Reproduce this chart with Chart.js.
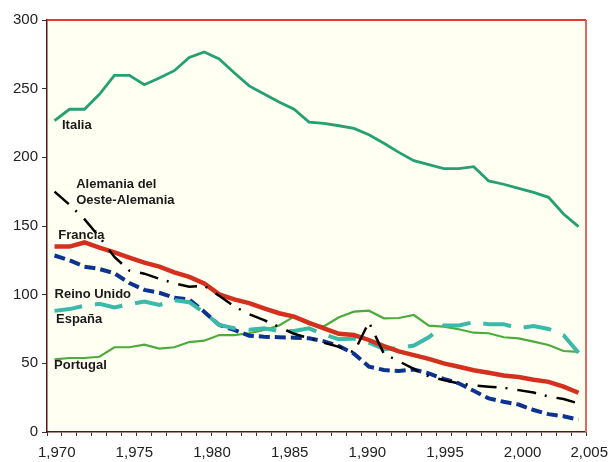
<!DOCTYPE html>
<html>
<head>
<meta charset="utf-8">
<script src="https://cdn.jsdelivr.net/npm/chart.js@4.4.1/dist/chart.umd.min.js"></script>
<style>
  html, body { margin: 0; padding: 0; background: #fff; }
</style>
</head>
<body>
<canvas id="chart" width="609" height="462"></canvas>
<script>
// Años (valor anual, dibujado a mitad de año)
const years = [1970, 1971, 1972, 1973, 1974, 1975, 1976, 1977, 1978, 1979,
               1980, 1981, 1982, 1983, 1984, 1985, 1986, 1987, 1988, 1989,
               1990, 1991, 1992, 1993, 1994, 1995, 1996, 1997, 1998, 1999,
               2000, 2001, 2002, 2003, 2004, 2005];

const italia = [226.7, 235, 235, 245.9, 259.7, 259.7, 252.9, 257.8, 263.1, 272.8,
                276.7, 271.6, 261.6, 252, 246.1, 240.3, 235, 225.7, 224.8, 223,
                221.1, 216.5, 210.2, 203.6, 197.6, 194.7, 191.8, 191.8, 193.2, 182.8,
                180.4, 177.4, 174.5, 170.9, 158.7, 149.5];

const alemania = [175, 165.5, 155, 142, 127.5, 117.5, 115.3, 111.6, 108.3, 105.8,
                  106.5, 99.2, 91.5, 85.8, 81.5, 76.5, 71.5, 68.3, 65, 62,
                  58, 80, 57, 51.5, 46, 40.5, 37.8, 35.4, 34, 33,
                  32.2, 30.5, 28.7, 25.8, 24, 20.8];

const francia = [135, 135, 138, 134.2, 130.8, 126.9, 123.3, 120.4, 116.3, 112.9,
                 108.2, 100.2, 96.6, 93.9, 90, 86.5, 84, 79.5, 75.5, 71.5,
                 70.6, 67, 62.5, 58.7, 56, 53.2, 50, 47.5, 45, 43.2,
                 41.2, 40, 38, 36.5, 33, 28.6];

const reinoUnido = [128.5, 125, 120.4, 118.7, 115.6, 108.5, 103.5, 101.4, 97.8, 96.5,
                    87.6, 77.9, 74.3, 70.1, 69.4, 69, 68.7, 68.2, 66, 62.5,
                    57, 47.6, 45.1, 44.4, 45.5, 42.7, 38.6, 35.5, 30, 24.5,
                    22, 20, 16, 13, 11.5, 9];

const espana = [88.2, 89.5, 92, 93.3, 90.7, 93, 95, 92.5, 96, 94.5,
                87, 78, 75.5, 74.5, 75.5, 73.5, 73.5, 75.5, 71, 67.5,
                68, 65, 60.5, 61, 63, 69, 77.5, 77.5, 80, 78.5,
                78.5, 75.5, 77.2, 75, 70.5, 57.7];

const portugal = [52.9, 53.9, 53.9, 54.8, 61.7, 61.7, 63.6, 60.7, 61.7, 65.5,
                  66.5, 70.6, 70.6, 71.9, 74.3, 77.5, 84, 78.5, 77, 83.5,
                  87.6, 88.3, 82.8, 83, 85.2, 77.5, 76.7, 74.8, 72.3, 71.9,
                  69, 68.2, 65.8, 63.4, 59, 58.3];

// Etiquetas del eje X y del eje Y
const yearTicks = [1970, 1975, 1980, 1985, 1990, 1995, 2000, 2005];
const valueTicks = [0, 50, 100, 150, 200, 250, 300];

// Rótulos de las series (texto, anclaje en año / valor)
const seriesLabels = [
    { lines: ['Italia'], x: 1971.0, y: 223.5 },
    { lines: ['Alemania del', 'Oeste-Alemania'], x: 1971.95, y: 180.2 },
    { lines: ['Francia'], x: 1970.75, y: 143.2 },
    { lines: ['Reino Unido'], x: 1970.5, y: 100 },
    { lines: ['España'], x: 1970.6, y: 82 },
    { lines: ['Portugal'], x: 1970.47, y: 48.5 }
];

const FONT = '"Liberation Sans", Arial, Helvetica, sans-serif';

function toPoints(values) {
    return years.map((yr, i) => ({ x: yr + 0.5, y: values[i] }));
}

// Fondo crema, marco rojo y rótulos
const decorPlugin = {
    id: 'decor',
    beforeDraw(chart) {
        const { ctx, chartArea: a } = chart;
        ctx.save();
        ctx.fillStyle = '#fffff2';
        ctx.fillRect(a.left, a.top, a.right - a.left, a.bottom - a.top);
        ctx.restore();
    },
    afterDraw(chart) {
        const { ctx, chartArea: a } = chart;
        const x = chart.scales.x;
        const y = chart.scales.y;
        const xl = chart.scales.xl;
        ctx.save();

        // marco superior y derecho
        ctx.lineWidth = 2;
        ctx.strokeStyle = '#e23a30';
        ctx.beginPath();
        ctx.moveTo(a.left, a.top);
        ctx.lineTo(a.right, a.top);
        ctx.stroke();
        ctx.strokeStyle = '#e06a5c';
        ctx.beginPath();
        ctx.moveTo(a.right, a.top);
        ctx.lineTo(a.right, a.bottom);
        ctx.stroke();

        // años del eje X
        ctx.font = '15px ' + FONT;
        ctx.fillStyle = '#222';
        ctx.textAlign = 'center';
        ctx.textBaseline = 'middle';
        yearTicks.forEach(yr => {
            const txt = yr.toLocaleString('en-US');
            const w = ctx.measureText(txt).width;
            const px = Math.min(xl.getPixelForValue(yr), chart.width - w / 2 - 1);
            ctx.fillText(txt, px, a.bottom + 21);
        });

        // nombres de las series
        ctx.font = 'bold 13px ' + FONT;
        ctx.fillStyle = '#1a1a1a';
        ctx.textAlign = 'left';
        seriesLabels.forEach(lab => {
            const px = x.getPixelForValue(lab.x);
            const py = y.getPixelForValue(lab.y);
            lab.lines.forEach((line, i) => ctx.fillText(line, px, py + i * 16));
        });
        ctx.restore();
    }
};

new Chart(document.getElementById('chart'), {
    type: 'line',
    data: {
        datasets: [
            { label: 'Alemania del Oeste-Alemania', data: toPoints(alemania),
              borderColor: '#000', borderWidth: 2.5, borderDash: [19, 9, 2, 10] },
            { label: 'Francia', data: toPoints(francia),
              borderColor: '#d4301e', borderWidth: 4.5 },
            { label: 'España', data: toPoints(espana),
              borderColor: '#3bb9a9', borderWidth: 4, borderDash: [28, 13] },
            { label: 'Reino Unido', data: toPoints(reinoUnido),
              borderColor: '#0d3391', borderWidth: 4, borderDash: [11, 5] },
            { label: 'Portugal', data: toPoints(portugal),
              borderColor: '#4dab3d', borderWidth: 2.2 },
            { label: 'Italia', data: toPoints(italia),
              borderColor: '#25a072', borderWidth: 2.8 }
        ]
    },
    options: {
        responsive: false,
        animation: false,
        layout: { padding: { left: 9, right: 23, top: 20, bottom: 26 } },
        elements: {
            point: { radius: 0 },
            line: { tension: 0, fill: false }
        },
        plugins: {
            legend: { display: false },
            tooltip: { enabled: false }
        },
        scales: {
            x: {
                type: 'linear',
                min: 1970,
                max: 2006,
                ticks: { stepSize: 1, display: false },
                grid: { drawOnChartArea: false, drawTicks: true, tickLength: 4, color: '#333' },
                border: { color: '#5a1414', width: 1.5 }
            },
            // escala de los rótulos de año (en el original van algo más espaciados)
            xl: {
                type: 'linear',
                position: 'bottom',
                display: false,
                min: 1969.375,
                max: 2004.08
            },
            y: {
                min: 0,
                max: 300,
                afterBuildTicks: scale => { scale.ticks = valueTicks.map(v => ({ value: v })); },
                ticks: { padding: 4, color: '#222', font: { size: 15, family: FONT } },
                grid: { drawOnChartArea: false, drawTicks: true, tickLength: 5, color: '#333' },
                border: { color: '#5a1414', width: 1.5 }
            }
        }
    },
    plugins: [decorPlugin]
});
</script>
</body>
</html>
